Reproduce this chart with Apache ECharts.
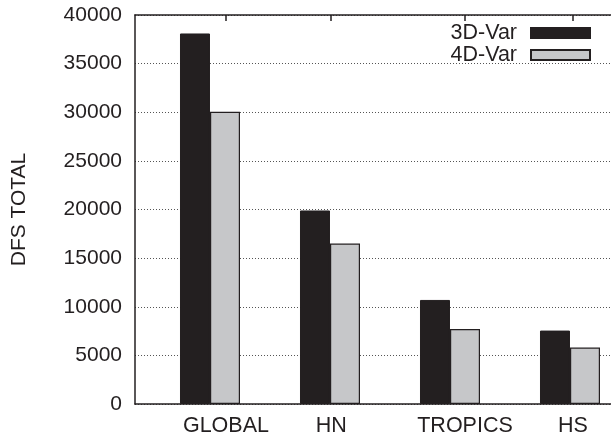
<!DOCTYPE html>
<html>
<head>
<meta charset="utf-8">
<style>
  html, body { margin: 0; padding: 0; background: #ffffff; }
  #chart { width: 611px; height: 439px; }
</style>
<script src="https://cdn.jsdelivr.net/npm/echarts@6/dist/echarts.min.js"></script>
</head>
<body>
<div id="chart"></div>
<script>
// Regions and DFS totals per assimilation scheme
const categories = ['GLOBAL', 'HN', 'TROPICS', 'HS'];
const var3d = [38100, 19900, 10700, 7550];
const var4d = [30050, 16500, 7700, 5800];
const yTicks = [0, 5000, 10000, 15000, 20000, 25000, 30000, 35000, 40000];

// Tic positions along the category axis (slightly right of each cluster centre)
const ticOffsets = [0.133, 0.01, 0.125, 0.025];

const FONT = '"Liberation Sans", Arial, Helvetica, sans-serif';
const INK = '#231f20';
const ticPositions = categories.map((_, i) => i + ticOffsets[i]);

// x range: the frame runs off the right-hand edge of the page
const X_MIN = -0.625;
const X_MAX = 3.3417;

const chart = echarts.init(document.getElementById('chart'), null, { renderer: 'canvas' });

chart.setOption({
  animation: false,
  backgroundColor: '#ffffff',
  textStyle: { fontFamily: FONT, color: INK },
  grid: { left: 135, top: 15, right: 0, bottom: 35, containLabel: false },
  legend: {
    orient: 'vertical',
    right: 15,
    top: 17,
    align: 'right',
    itemWidth: 59,
    itemHeight: 10,
    itemGap: 0,
    icon: 'rect',
    textStyle: { fontFamily: FONT, fontSize: 21.5, color: INK, lineHeight: 22, padding: [0, 9, 0, 0] },
    data: ['3D-Var', '4D-Var']
  },
  xAxis: [
    {
      type: 'value',
      position: 'bottom',
      min: X_MIN,
      max: X_MAX,
      splitLine: { show: false },
      axisLine: { show: true, onZero: false, lineStyle: { color: INK, width: 1.5 } },
      axisTick: { show: false },
      axisLabel: {
        customValues: ticPositions,
        formatter: (v) => categories[Math.round(v)] || '',
        fontFamily: FONT,
        fontSize: 21.5,
        color: INK,
        margin: 11
      }
    },
    {
      type: 'value',
      position: 'top',
      min: X_MIN,
      max: X_MAX,
      splitLine: { show: false },
      axisLine: { show: true, onZero: false, lineStyle: { color: INK, width: 1.5 } },
      axisTick: { show: true, inside: true, length: 6, customValues: ticPositions, lineStyle: { color: INK, width: 1.5 } },
      axisLabel: { show: false }
    }
  ],
  yAxis: {
    type: 'value',
    min: 0,
    max: 40000,
    interval: 5000,
    name: 'DFS TOTAL',
    nameLocation: 'middle',
    nameRotate: 90,
    nameGap: 105,
    nameTextStyle: { fontFamily: FONT, fontSize: 21, color: INK },
    axisLine: { show: true, onZero: false, lineStyle: { color: INK, width: 1.5 } },
    axisTick: { show: false },
    axisLabel: {
      fontFamily: FONT,
      fontSize: 21,
      color: INK,
      margin: 13,
      customValues: yTicks,
      formatter: (v) => String(v)
    },
    splitLine: { show: true, lineStyle: { color: '#555', width: 1, type: [1, 2] } }
  },
  series: [
    {
      name: '3D-Var',
      type: 'bar',
      xAxisIndex: 0,
      barWidth: 30,
      barGap: '0%',
      data: var3d.map((v, i) => [i, v]),
      itemStyle: { color: INK, borderColor: INK, borderWidth: 1 }
    },
    {
      name: '4D-Var',
      type: 'bar',
      xAxisIndex: 0,
      barWidth: 30,
      barGap: '0%',
      data: var4d.map((v, i) => [i, v]),
      itemStyle: { color: '#c6c7c9', borderColor: INK, borderWidth: 1.2 }
    }
  ]
});
</script>
</body>
</html>
